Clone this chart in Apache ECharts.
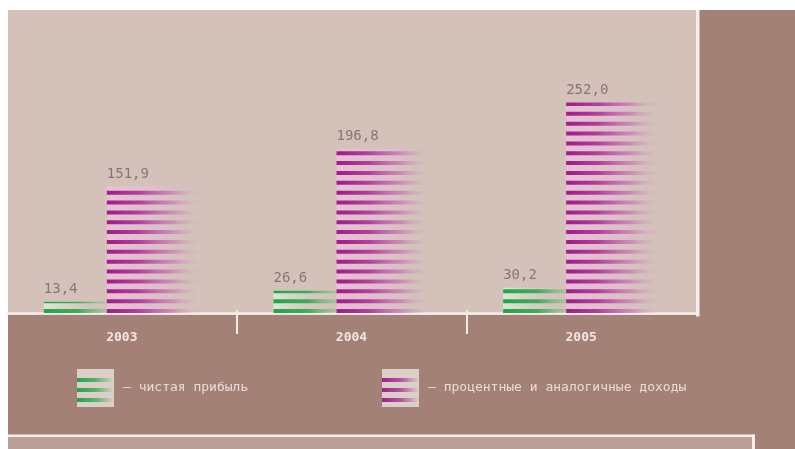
<!DOCTYPE html>
<html>
<head>
<meta charset="utf-8">
<script src="https://cdn.jsdelivr.net/npm/echarts@6/dist/echarts.min.js"></script>
<style>
html,body{margin:0;padding:0;background:#fff;}
#c{width:795px;height:449px;}
</style>
</head>
<body>
<div id="c"></div>
<script>
const categories = ['2003', '2004', '2005'];
const netProfit = [13.4, 26.6, 30.2];
const interestIncome = [151.9, 196.8, 252.0];
const seriesNames = ['чистая прибыль', 'процентные и аналогичные доходы'];

const W = 795, H = 449;
const gridLeft = 7, gridRight = 99, gridBottom = 136, gridTop = 62.5;
const yMax = 300;
const bandW = (W - gridLeft - gridRight) / categories.length;

const lg = (stops) => new echarts.graphic.LinearGradient(0, 0, 1, 0,
  stops.map(s => ({offset: s[0], color: s[1]})));

const greenStripe = lg([[0, '#22a449'], [0.55, 'rgba(45,168,78,0.9)'], [1, 'rgba(110,185,120,0.35)']]);
const purpleStripe = lg([[0, '#9e1d86'], [0.35, '#b2409b'], [0.7, 'rgba(195,105,175,0.6)'], [1, 'rgba(215,170,200,0)']]);
const greenBack = lg([[0, 'rgba(220,236,212,0.9)'], [1, 'rgba(211,193,186,0.2)']]);
const purpleBack = lg([[0, 'rgba(236,192,220,0.85)'], [0.6, 'rgba(226,192,210,0.55)'], [1, 'rgba(211,193,186,0)']]);

function iconSvg(c) {
  const svg = "<svg xmlns='http://www.w3.org/2000/svg' width='37' height='38'>" +
    "<defs><linearGradient id='g' x1='0' x2='1' y1='0' y2='0'>" +
    "<stop offset='0' stop-color='" + c + "'/><stop offset='0.5' stop-color='" + c + "' stop-opacity='0.7'/>" +
    "<stop offset='1' stop-color='" + c + "' stop-opacity='0'/></linearGradient></defs>" +
    "<rect width='37' height='38' fill='#dccfc7'/>" +
    "<rect y='9' width='37' height='4' fill='url(#g)'/>" +
    "<rect y='19' width='37' height='4' fill='url(#g)'/>" +
    "<rect y='29' width='37' height='4' fill='url(#g)'/></svg>";
  return 'image://data:image/svg+xml;charset=utf-8,' + encodeURIComponent(svg);
}

const mono = '"DejaVu Sans Mono", "Liberation Mono", monospace';
const valueLabel = {
  show: true,
  position: [0, -5],
  align: 'left',
  verticalAlign: 'bottom',
  color: '#8a7671',
  fontFamily: mono,
  fontSize: 14,
  formatter: p => p.value.toFixed(1).replace('.', ',')
};

const legendBase = {
  top: 369,
  padding: 0,
  itemWidth: 37,
  itemHeight: 38,
  selectedMode: false,
  formatter: name => '– ' + name,
  textStyle: {color: '#e9dcd6', fontFamily: mono, fontSize: 13, padding: [0, 0, 0, 4]}
};

const chart = echarts.init(document.getElementById('c'), null, {renderer: 'canvas'});
chart.setOption({
  backgroundColor: '#a48177',
  animation: false,
  graphic: [
    {type: 'rect', z: -10, shape: {x: 0, y: 0, width: W, height: 10}, style: {fill: '#ffffff'}},
    {type: 'rect', z: -10, shape: {x: 0, y: 0, width: 8, height: H}, style: {fill: '#ffffff'}},
    {type: 'rect', z: -10, shape: {x: 8, y: 10, width: 689, height: 305}, style: {fill: '#d3c1ba'}},
    {type: 'rect', z: -9, shape: {x: 696, y: 10, width: 3.5, height: 306.5}, style: {fill: '#f6eeea'}},
    {type: 'rect', z: -10, shape: {x: 8, y: 437, width: 744, height: 12}, style: {fill: '#b89e94'}},
    {type: 'rect', z: -9, shape: {x: 8, y: 434.5, width: 747, height: 2.5}, style: {fill: '#f6eeea'}},
    {type: 'rect', z: -9, shape: {x: 752, y: 434.5, width: 3, height: 15}, style: {fill: '#f6eeea'}}
  ],
  grid: [
    {left: gridLeft, right: gridRight, top: gridTop, bottom: gridBottom},
    {left: gridLeft + bandW, width: bandW * (categories.length - 2), bottom: H - 310, height: 10}
  ],
  legend: [
    Object.assign({}, legendBase, {left: 77, data: [{name: seriesNames[0], icon: iconSvg('#22a449')}]}),
    Object.assign({}, legendBase, {left: 382, data: [{name: seriesNames[1], icon: iconSvg('#a01f88')}]})
  ],
  xAxis: [
    {
      type: 'category', gridIndex: 0, data: categories, offset: 2,
      axisLine: {show: true, lineStyle: {color: '#f6eeea', width: 2.5}},
      axisTick: {show: false},
      axisLabel: {margin: 16, color: '#f1e6e1', fontFamily: mono, fontSize: 13, fontWeight: 'bold'},
      splitLine: {show: false}
    },
    {
      type: 'value', gridIndex: 1, min: 0, max: 1, interval: 1,
      axisLine: {show: false},
      axisTick: {show: true, length: 24, lineStyle: {color: '#f4ebe7', width: 2}},
      axisLabel: {show: false},
      splitLine: {show: false}
    }
  ],
  yAxis: [
    {type: 'value', gridIndex: 0, min: 0, max: yMax, show: false, splitLine: {show: false}},
    {type: 'value', gridIndex: 1, show: false, splitLine: {show: false}}
  ],
  series: [
    {
      type: 'bar', name: seriesNames[0], data: netProfit, barWidth: 63, barGap: '0%',
      itemStyle: {color: greenBack}, label: valueLabel, z: 2
    },
    {
      type: 'bar', name: seriesNames[1], data: interestIncome, barWidth: 93, barGap: '0%',
      itemStyle: {color: purpleBack}, label: valueLabel, z: 2
    },
    {
      type: 'pictorialBar', name: seriesNames[0], data: netProfit, barWidth: 63, barGap: '0%',
      symbol: 'rect', symbolRepeat: true, symbolSize: ['100%', 4], symbolMargin: 3,
      symbolClip: true, symbolBoundingData: yMax,
      itemStyle: {color: greenStripe}, z: 3
    },
    {
      type: 'pictorialBar', name: seriesNames[1], data: interestIncome, barWidth: 93, barGap: '0%',
      symbol: 'rect', symbolRepeat: true, symbolSize: ['100%', 4], symbolMargin: 3,
      symbolClip: true, symbolBoundingData: yMax,
      itemStyle: {color: purpleStripe}, z: 3
    }
  ]
});
</script>
</body>
</html>
